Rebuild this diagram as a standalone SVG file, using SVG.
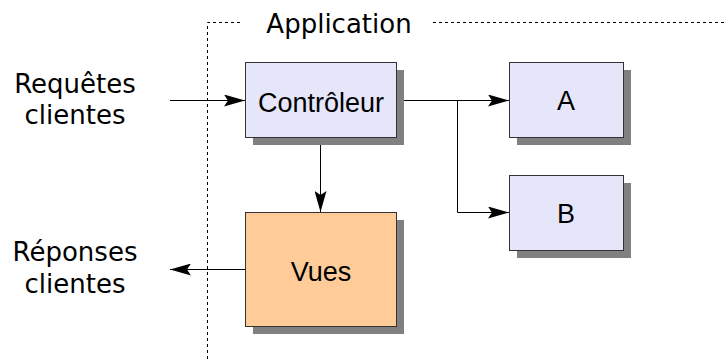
<svg xmlns="http://www.w3.org/2000/svg" width="727" height="359" viewBox="0 0 727 359">
  <defs>
    <marker id="arrow" viewBox="0 0 21 12" refX="21" refY="6" markerWidth="21" markerHeight="12" markerUnits="userSpaceOnUse" orient="auto">
      <path d="M0,0 L21,6 L0,12 L4,6 Z" fill="#000"/>
    </marker>
  </defs>
  <style>
    .shadow { fill: #808080; }
    .box { fill: #e6e6fa; stroke: #333; stroke-width: 1; }
    .view { fill: #ffcc99; stroke: #333; stroke-width: 1; }
    .lbl { font-family: "Liberation Sans", Arial, sans-serif; font-size: 27px; fill: #000; text-anchor: middle; }
    .side { font-family: "DejaVu Sans", sans-serif; font-size: 26px; fill: #000; text-anchor: middle; }
    .boundary { fill: none; stroke: #000; stroke-width: 1; stroke-dasharray: 3 3; }
    .wire { fill: none; stroke: #000; stroke-width: 1; }
  </style>

  <!-- application boundary -->
  <g id="boundary">
    <path class="boundary" d="M207.5,359 V22.5 H240 M433,22.5 H727"/>
    <text class="side" x="339" y="33">Application</text>
  </g>

  <!-- external labels -->
  <g id="requests">
    <text class="side" x="75" y="93">Requêtes</text>
    <text class="side" x="75" y="124">clientes</text>
  </g>
  <g id="responses">
    <text class="side" x="75" y="261">Réponses</text>
    <text class="side" x="75" y="293">clientes</text>
  </g>

  <!-- connectors -->
  <g id="connectors">
    <path class="wire" d="M170,100.5 H245" marker-end="url(#arrow)"/>
    <path class="wire" d="M396,100.5 H509" marker-end="url(#arrow)"/>
    <path class="wire" d="M457.5,100.5 V212.5 H509" marker-end="url(#arrow)"/>
    <path class="wire" d="M320.5,137 V212" marker-end="url(#arrow)"/>
    <path class="wire" d="M245,269.5 H170" marker-end="url(#arrow)"/>
  </g>

  <g id="controleur">
    <rect class="shadow" x="253" y="70" width="151" height="75"/>
    <rect class="box" x="245.5" y="62.5" width="151" height="75"/>
    <text class="lbl" x="321" y="112">Contrôleur</text>
  </g>

  <g id="a">
    <rect class="shadow" x="517" y="70" width="114" height="75"/>
    <rect class="box" x="509.5" y="62.5" width="114" height="75"/>
    <text class="lbl" x="566" y="110">A</text>
  </g>

  <g id="b">
    <rect class="shadow" x="517" y="183" width="114" height="75"/>
    <rect class="box" x="509.5" y="175.5" width="114" height="75"/>
    <text class="lbl" x="566" y="223">B</text>
  </g>

  <g id="vues">
    <rect class="shadow" x="253" y="220" width="151" height="114"/>
    <rect class="view" x="245.5" y="212.5" width="151" height="114"/>
    <text class="lbl" x="321" y="281">Vues</text>
  </g>
</svg>
